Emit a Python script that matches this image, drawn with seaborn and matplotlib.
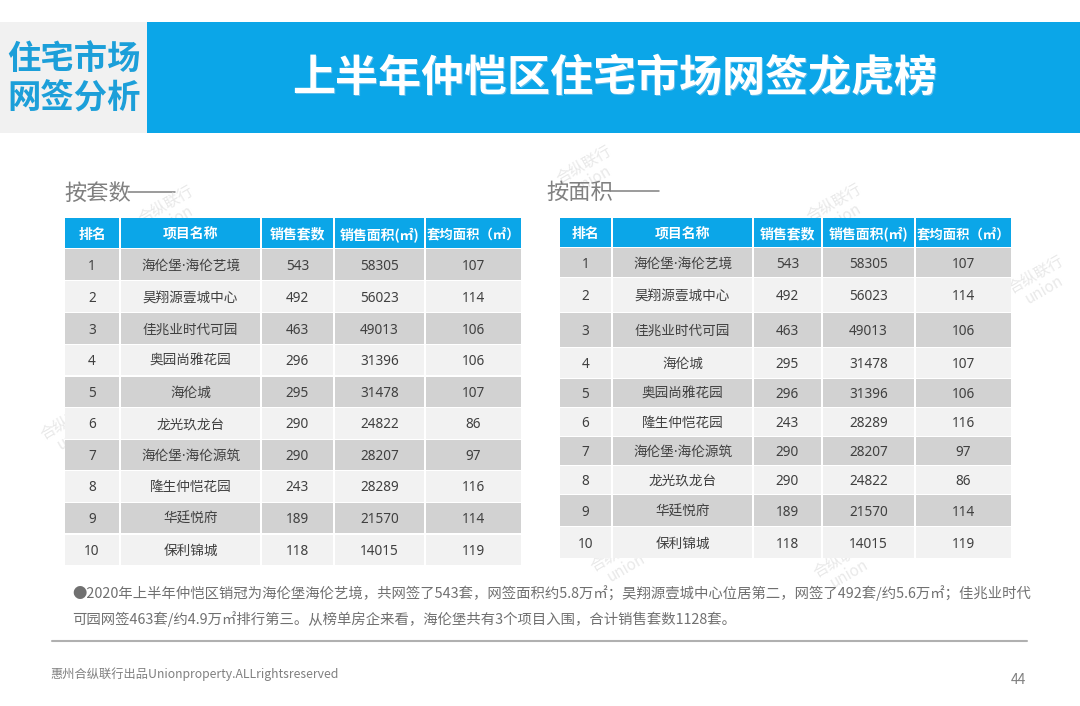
import numpy as np
import matplotlib
matplotlib.use('Agg')
import matplotlib.pyplot as plt
from matplotlib.colors import ListedColormap
from matplotlib.patches import Rectangle
import seaborn as sns

headers = ['排名', '项目名称', '销售套数', '销售面积(㎡)', '套均面积（㎡）']
rank = list(range(1, 11))

names_left = ['海伦堡·海伦艺境', '昊翔源壹城中心', '佳兆业时代可园', '奥园尚雅花园', '海伦城',
              '龙光玖龙台', '海伦堡·海伦源筑', '隆生仲恺花园', '华廷悦府', '保利锦城']
units_left = [543, 492, 463, 296, 295, 290, 290, 243, 189, 118]
area_left = [58305, 56023, 49013, 31396, 31478, 24822, 28207, 28289, 21570, 14015]
avg_left = [107, 114, 106, 106, 107, 86, 97, 116, 114, 119]

names_right = ['海伦堡·海伦艺境', '昊翔源壹城中心', '佳兆业时代可园', '海伦城', '奥园尚雅花园',
               '隆生仲恺花园', '海伦堡·海伦源筑', '龙光玖龙台', '华廷悦府', '保利锦城']
units_right = [543, 492, 463, 295, 296, 243, 290, 290, 189, 118]
area_right = [58305, 56023, 49013, 31478, 31396, 28289, 28207, 24822, 21570, 14015]
avg_right = [107, 114, 106, 107, 106, 116, 97, 86, 114, 119]

note_1 = '●2020年上半年仲恺区销冠为海伦堡海伦艺境，共网签了543套，网签面积约5.8万㎡；昊翔源壹城中心位居第二，网签了492套/约5.6万㎡；佳兆业时代'
note_2 = '可园网签463套/约4.9万㎡排行第三。从榜单房企来看，海伦堡共有3个项目入围，合计销售套数1128套。'

W, H = 1080, 706
BLUE = '#0ba6e8'
TEXT = '#404040'
LATIN_FIRST = ['Noto Sans', 'Noto Sans CJK SC']  # narrow middle dot and digits

sns.set_theme(style='white')
plt.rcParams['font.family'] = ['Noto Sans CJK SC', 'DejaVu Sans']

fig = plt.figure(figsize=(W / 100, H / 100), dpi=100)
bg = fig.add_axes([0, 0, 1, 1])
bg.set_xlim(0, W)
bg.set_ylim(H, 0)
bg.axis('off')

# banner
bg.add_patch(Rectangle((0, 22), 147, 111, color='#f1f1f1', lw=0))
bg.add_patch(Rectangle((147, 22), W - 147, 111, color=BLUE, lw=0))
bg.text(74, 59, '住宅市场', color='#1c9fd9', fontsize=24, fontweight='bold', ha='center', va='center')
bg.text(74, 99, '网签分析', color='#1c9fd9', fontsize=24, fontweight='bold', ha='center', va='center')
bg.text(616, 79, '上半年仲恺区住宅市场网签龙虎榜', color='#5cbdec', fontsize=31, fontweight='bold', ha='center', va='center')
bg.text(615, 78, '上半年仲恺区住宅市场网签龙虎榜', color='white', fontsize=31, fontweight='bold', ha='center', va='center')

# watermarks
for x, y in [(588, 172), (170, 212), (838, 210), (1040, 282), (72, 428), (622, 560), (845, 566)]:
    bg.text(x, y, '合纵联行\nunion', color='#e9e9e9', fontsize=11, rotation=30, ha='center', va='center', linespacing=1.0)

bg.text(64, 193, '按套数', color='#808080', fontsize=16, va='center')
bg.plot([128, 175], [192, 192], color='#808080', lw=1.1)
bg.text(546, 192, '按面积', color='#808080', fontsize=16, va='center')
bg.plot([610, 659], [191, 191], color='#808080', lw=1.1)


def draw_table(col_edges, row_edges, names, units, area, avg):
    # col_edges / row_edges are pixel bounds (start, end) of every column and row
    x0, x1 = col_edges[0][0], col_edges[-1][1]
    y0, y1 = row_edges[0][0], row_edges[-1][1]

    # one heatmap cell per pixel, codes: 0 gap, 1 header, 2 dark row, 3 light row
    grid = np.zeros((y1 - y0, x1 - x0), dtype=int)
    for i, (ya, yb) in enumerate(row_edges):
        code = 1 if i == 0 else (2 if i % 2 == 1 else 3)
        for xa, xb in col_edges:
            grid[ya - y0:yb - y0, xa - x0:xb - x0] = code

    ax = fig.add_axes([x0 / W, 1 - y1 / H, (x1 - x0) / W, (y1 - y0) / H])
    ax.set_zorder(2)
    sns.heatmap(grid, ax=ax, cmap=ListedColormap(['white', BLUE, '#d2d2d2', '#f2f2f2']),
                vmin=0, vmax=3, cbar=False, xticklabels=False, yticklabels=False)

    centers_x = [(a + b) / 2 - x0 for a, b in col_edges]
    centers_y = [(a + b) / 2 - y0 + 1.5 for a, b in row_edges]
    for j, h in enumerate(headers):
        size = 9.6 if j == 4 else 10
        ax.text(centers_x[j], centers_y[0], h, color='white', fontsize=size, fontweight='bold',
                ha='center', va='center')
    for i in range(len(names)):
        row = [rank[i], names[i], units[i], area[i], avg[i]]
        for j, v in enumerate(row):
            ax.text(centers_x[j], centers_y[i + 1], str(v), color=TEXT, fontsize=9.8,
                    family=LATIN_FIRST, ha='center', va='center')
    return ax


cols_left = [(65, 119), (121, 260), (262, 333), (335, 424), (426, 521)]
rows_left = [(218, 248), (249, 280), (281, 312), (313, 344), (345, 375), (377, 407),
             (408, 439), (440, 470), (471, 502), (503, 533), (535, 565)]
draw_table(cols_left, rows_left, names_left, units_left, area_left, avg_left)

cols_right = [(560, 611), (613, 752), (754, 821), (823, 914), (916, 1011)]
rows_right = [(218, 247), (248, 277), (278, 312), (313, 347), (348, 378), (379, 407),
              (408, 436), (437, 465), (466, 494), (495, 526), (527, 558)]
draw_table(cols_right, rows_right, names_right, units_right, area_right, avg_right)

# note and footer
bg.text(72, 593.5, note_1, color='#707070', fontsize=10.33, va='center')
bg.text(72, 619.5, note_2, color='#707070', fontsize=10.33, va='center')
bg.plot([52, 1027], [641, 641], color='#b0b0b0', lw=1.5)
bg.text(50, 674, '惠州合纵联行出品Unionproperty.ALLrightsreserved', color='#808080', fontsize=8.8, va='center')
bg.text(1018, 680, '44', color='#808080', fontsize=10, ha='center', va='center')

fig.savefig('out.png', dpi=100)
